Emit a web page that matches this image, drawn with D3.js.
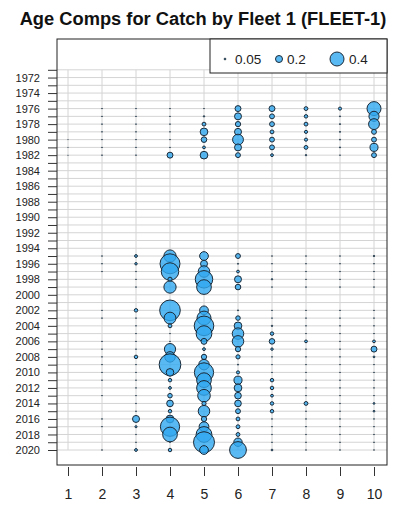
<!DOCTYPE html>
<html>
<head>
<meta charset="utf-8">
<script src="https://cdn.jsdelivr.net/npm/d3@7"></script>
<style>
  body { margin: 0; background: #fff; }
  svg { display: block; font-family: Arial, "Liberation Sans", sans-serif; }
</style>
</head>
<body>
<svg id="chart" width="398" height="505"></svg>
<script>
// observed years (rows) and ages (columns)
const years = [1976, 1977, 1978, 1979, 1980, 1981, 1982,
  1995, 1996, 1997, 1998, 1999,
  2002, 2003, 2004, 2005, 2006, 2007, 2008, 2009, 2010, 2011,
  2012, 2013, 2014, 2015, 2016, 2017, 2018, 2019, 2020];
const ages = [1, 2, 3, 4, 5, 6, 7, 8, 9, 10];

// proportion at age, one array per age, aligned with years (null = no obs)
const age1 = [null, null, null, null, 0.01, 0.01, 0.01,
  null, null, null, null, null,
  null, null, null, null, null, null, null, null, null, null,
  null, null, null, null, null, null, null, null, null];
const age2 = [0.02, 0.02, 0.02, 0.02, 0.02, 0.02, 0.02,
  0.02, 0.02, 0.02, null, null,
  0.02, 0.02, null, null, 0.02, 0.02, 0.02, 0.02, 0.02, 0.02,
  null, 0.02, null, null, 0.02, 0.02, null, null, 0.02];
const age3 = [0.02, 0.02, 0.02, 0.02, 0.02, 0.02, 0.02,
  0.08, 0.07, 0.02, 0.02, 0.02,
  0.1, 0.02, 0.02, 0.02, 0.02, 0.02, 0.1, 0.02, 0.02, 0.02,
  0.02, 0.02, 0.02, 0.02, 0.2, 0.06, 0.02, 0.02, 0.08];
const age4 = [0.02, 0.02, 0.02, 0.02, 0.02, 0.02, 0.17,
  0.35, 0.57, 0.5, 0.12, 0.35,
  0.59, 0.34, 0.11, 0.02, 0.02, 0.32, 0.3, 0.62, 0.22, 0.1,
  0.08, 0.13, 0.19, 0.1, 0.22, 0.55, 0.42, 0.02, 0.1];
const age5 = [0.02, 0.04, 0.11, 0.22, 0.16, 0.08, 0.22,
  0.25, 0.2, 0.33, 0.5, 0.42,
  0.25, 0.4, 0.56, 0.45, 0.17, 0.08, 0.15, 0.3, 0.55, 0.42,
  0.42, 0.36, 0.12, 0.33, 0.15, 0.28, 0.45, 0.6, 0.25];
const age6 = [0.17, 0.2, 0.15, 0.2, 0.31, 0.2, 0.14,
  0.14, 0.03, 0.08, 0.2, 0.16,
  0.03, 0.13, 0.22, 0.33, 0.33, 0.15, 0.12, 0.03, 0.09, 0.23,
  0.22, 0.19, 0.19, 0.14, 0.11, 0.11, 0.11, 0.24, 0.48];
const age7 = [0.17, 0.14, 0.14, 0.11, 0.14, 0.14, 0.08,
  0.02, 0.02, 0.02, 0.04, 0.02,
  0.02, 0.02, 0.04, 0.1, 0.16, 0.07, 0.02, 0.02, 0.02, 0.1,
  0.1, 0.08, 0.1, 0.1, 0.02, 0.02, 0.02, 0.02, 0.05];
const age8 = [0.11, 0.1, 0.11, 0.09, 0.09, 0.11, 0.04,
  0.02, 0.02, 0.02, 0.02, 0.02,
  0.02, 0.02, 0.02, 0.02, 0.08, 0.02, 0.02, 0.02, 0.02, 0.02,
  0.02, 0.02, 0.11, 0.02, 0.02, 0.02, 0.02, 0.02, 0.02];
const age9 = [0.09, 0.03, 0.03, 0.03, 0.03, 0.03, 0.02,
  0.02, 0.02, 0.02, 0.02, 0.02,
  0.02, 0.02, 0.02, 0.02, 0.02, 0.02, 0.02, 0.02, 0.02, 0.02,
  0.02, 0.02, 0.02, 0.02, 0.02, 0.02, 0.02, 0.02, 0.02];
const age10 = [0.4, 0.29, 0.31, 0.14, 0.14, 0.23, 0.14,
  0.04, 0.02, 0.02, 0.02, 0.02,
  0.02, 0.02, 0.02, 0.02, 0.08, 0.17, 0.05, 0.02, 0.02, 0.02,
  0.02, 0.02, 0.05, 0.05, 0.02, 0.02, 0.02, 0.02, 0.02];

const legendValues = [0.05, 0.2, 0.4];
const title = 'Age Comps for Catch by Fleet 1 (FLEET-1)';

const byAge = [age1, age2, age3, age4, age5, age6, age7, age8, age9, age10];

// flatten to one record per bubble
const comps = [];
ages.forEach((a, i) => {
  byAge[i].forEach((p, j) => {
    if (p !== null) comps.push({ age: a, year: years[j], prop: p });
  });
});

const svg = d3.select('#chart');
const box = { left: 57, right: 387, top: 39, bottom: 465 };

const x = d3.scaleLinear().domain([1, 10]).range([68, 374]);
const y = d3.scaleLinear().domain([1971, 2020]).range([69.8, 450]);
const r = d3.scaleLinear().domain([0, 0.4]).range([0, 7]);

const allYears = d3.range(1971, 2021);

// grid
const grid = svg.append('g').attr('stroke', '#d4d4d4').attr('stroke-width', 1);
grid.selectAll('line.h')
  .data(allYears)
  .join('line')
  .attr('class', 'h')
  .attr('x1', box.left)
  .attr('x2', box.right)
  .attr('y1', d => y(d))
  .attr('y2', d => y(d));
grid.selectAll('line.v')
  .data(ages)
  .join('line')
  .attr('class', 'v')
  .attr('x1', d => x(d))
  .attr('x2', d => x(d))
  .attr('y1', y(1971))
  .attr('y2', y(2020));

// bubbles
svg.append('g')
  .selectAll('circle')
  .data(comps)
  .join('circle')
  .attr('cx', d => x(d.age))
  .attr('cy', d => y(d.year))
  .attr('r', d => r(d.prop))
  .attr('fill', '#30a8f0')
  .attr('fill-opacity', 0.8)
  .attr('stroke', '#1b2a38')
  .attr('stroke-width', 1);

// plot box
svg.append('rect')
  .attr('x', box.left)
  .attr('y', box.top)
  .attr('width', box.right - box.left)
  .attr('height', box.bottom - box.top)
  .attr('fill', 'none')
  .attr('stroke', '#222')
  .attr('stroke-width', 1);

// y axis: tick every year, label every other year
const yAxis = svg.append('g')
  .attr('transform', `translate(${box.left},0)`)
  .call(d3.axisLeft(y)
    .tickValues(allYears)
    .tickSize(9)
    .tickPadding(8)
    .tickFormat(d => (d % 2 === 0 ? d : '')));
yAxis.select('.domain').remove();
yAxis.selectAll('line').attr('stroke', '#333');
yAxis.selectAll('text').attr('font-size', 11).attr('fill', '#222')
  .attr('font-family', 'Arial, "Liberation Sans", sans-serif');

// x axis
const xAxis = svg.append('g')
  .attr('transform', `translate(0,${box.bottom + 2})`)
  .call(d3.axisBottom(x).tickValues(ages).tickSize(9).tickPadding(13));
xAxis.select('.domain').remove();
xAxis.selectAll('line').attr('stroke', '#333');
xAxis.selectAll('text').attr('font-size', 14).attr('fill', '#222')
  .attr('font-family', 'Arial, "Liberation Sans", sans-serif');

// title
svg.append('text')
  .attr('x', 203)
  .attr('y', 25)
  .attr('text-anchor', 'middle')
  .attr('font-size', 18.3)
  .attr('font-weight', 'bold')
  .attr('fill', '#111')
  .text(title);

// legend
const legend = svg.append('g');
legend.append('rect')
  .attr('x', 210)
  .attr('y', box.top)
  .attr('width', box.right - 210)
  .attr('height', 34)
  .attr('fill', '#fff')
  .attr('stroke', '#222');
const legendX = [225, 279, 337];
const legendTextX = [235, 287, 349];
const items = legend.selectAll('g.item')
  .data(legendValues)
  .join('g')
  .attr('class', 'item');
items.append('circle')
  .attr('cx', (d, i) => legendX[i])
  .attr('cy', 59)
  .attr('r', d => r(d))
  .attr('fill', '#30a8f0')
  .attr('fill-opacity', 0.8)
  .attr('stroke', '#1b2a38');
items.append('text')
  .attr('x', (d, i) => legendTextX[i])
  .attr('y', 59)
  .attr('dy', '0.35em')
  .attr('font-size', 13.5)
  .attr('fill', '#222')
  .text(d => d);
</script>
</body>
</html>
